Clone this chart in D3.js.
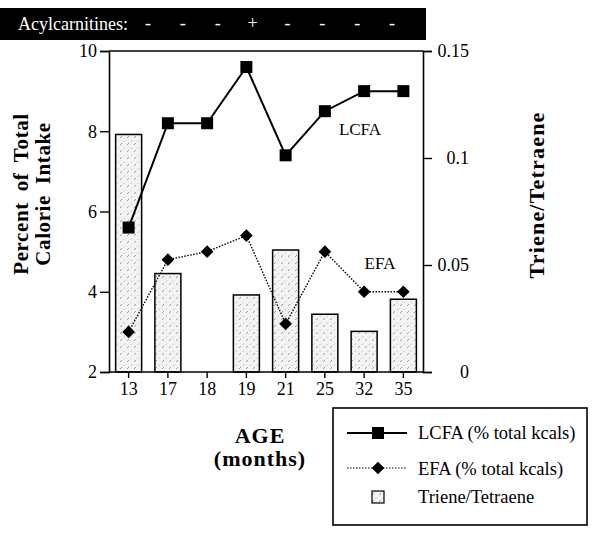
<!doctype html>
<html lang="en">
<head>
<meta charset="utf-8">
<title>LCFA / EFA / Triene-Tetraene by age</title>
<script src="https://d3js.org/d3.v7.min.js"></script>
<style>
  body { margin: 0; background: #fff; }
</style>
</head>
<body>
<div id="chart"></div>
<script>
// data
const ages = ["13", "17", "18", "19", "21", "25", "32", "35"];
const lcfa = [5.6, 8.2, 8.2, 9.6, 7.4, 8.5, 9.0, 9.0];
const efa = [3.0, 4.8, 5.0, 5.4, 3.2, 5.0, 4.0, 4.0];
const triene = [0.111, 0.046, null, 0.036, 0.057, 0.027, 0.019, 0.034];
const acyl = ["-", "-", "-", "+", "-", "-", "-", "-"];
const leftTicks = [2, 4, 6, 8, 10];
const rightTicks = [0, 0.05, 0.1, 0.15];

const width = 601, height = 533;
const m = { left: 109, right: 423, top: 51, bottom: 372 };
const serif = "'Liberation Serif', 'Times New Roman', serif";

const svg = d3.select("#chart").append("svg")
    .attr("width", width)
    .attr("height", height)
    .attr("font-family", serif);

// hatch fill for the bars
const defs = svg.append("defs");
const pat = defs.append("pattern")
    .attr("id", "hatch")
    .attr("patternUnits", "userSpaceOnUse")
    .attr("width", 7).attr("height", 7);
pat.append("rect").attr("width", 7).attr("height", 7).attr("fill", "#f3f3f3");
pat.append("path").attr("d", "M1,5 L3,3").attr("stroke", "#888").attr("stroke-width", 0.8);
pat.append("path").attr("d", "M4.5,2 L6,0.5").attr("stroke", "#aaa").attr("stroke-width", 0.7);

const x = d3.scaleBand().domain(ages).range([m.left, m.right]);
const cx = d => x(d) + x.bandwidth() / 2;
const yL = d3.scaleLinear().domain([2, 10]).range([m.bottom, m.top]);
const yR = d3.scaleLinear().domain([0, 0.15]).range([m.bottom, m.top]);

// header strip
svg.append("rect").attr("x", 0).attr("y", 8).attr("width", 426).attr("height", 32).attr("fill", "#000");
svg.append("text").attr("x", 18).attr("y", 30).attr("fill", "#fff")
    .attr("font-size", 18).text("Acylcarnitines:");
const xa = d3.scalePoint().domain(d3.range(acyl.length)).range([148, 392]);
svg.append("g").selectAll("text").data(acyl).join("text")
    .attr("x", (d, i) => xa(i)).attr("y", 29)
    .attr("text-anchor", "middle").attr("fill", "#fff").attr("font-size", 18)
    .text(d => d);

// bars
svg.append("g").selectAll("rect")
  .data(ages.map((a, i) => ({ a, v: triene[i] })).filter(d => d.v != null))
  .join("rect")
    .attr("x", d => cx(d.a) - 13)
    .attr("width", 26)
    .attr("y", d => yR(d.v))
    .attr("height", d => yR(0) - yR(d.v))
    .attr("fill", "url(#hatch)")
    .attr("stroke", "#000").attr("stroke-width", 1.5);

// axes
const axL = svg.append("g").attr("transform", `translate(${m.left},0)`)
    .call(d3.axisLeft(yL).tickValues(leftTicks).tickSize(9).tickPadding(3).tickFormat(d3.format("d")));
const axR = svg.append("g").attr("transform", `translate(${m.right},0)`)
    .call(d3.axisRight(yR).tickValues(rightTicks).tickSize(9).tickPadding(0).tickFormat(d => d === 0 ? "0" : String(d)));
axR.selectAll(".tick text").attr("text-anchor", "end").attr("x", 46);
const axB = svg.append("g").attr("transform", `translate(0,${m.bottom})`)
    .call(d3.axisBottom(x).tickSize(6).tickPadding(4));
for (const g of [axL, axR, axB]) {
  g.attr("font-family", serif).attr("font-size", 18);
  g.selectAll(".domain").attr("stroke-width", 1.6);
  g.selectAll(".tick line").attr("stroke-width", 1.4);
}
axB.select(".domain").attr("d", `M${m.left},0H${m.right}`);
svg.append("line").attr("x1", m.left).attr("x2", m.right).attr("y1", m.top).attr("y2", m.top)
    .attr("stroke", "#000").attr("stroke-width", 1.6);

// LCFA
svg.append("path").datum(lcfa)
    .attr("fill", "none").attr("stroke", "#000").attr("stroke-width", 2)
    .attr("d", d3.line().x((d, i) => cx(ages[i])).y(d => yL(d)));
svg.append("g").selectAll("rect").data(lcfa).join("rect")
    .attr("x", (d, i) => cx(ages[i]) - 6).attr("y", d => yL(d) - 6)
    .attr("width", 12).attr("height", 12).attr("fill", "#000");

// EFA
svg.append("path").datum(efa)
    .attr("fill", "none").attr("stroke", "#000").attr("stroke-width", 1.4)
    .attr("stroke-dasharray", "1.5,1.5")
    .attr("d", d3.line().x((d, i) => cx(ages[i])).y(d => yL(d)));
const diamond = d3.symbol().type(d3.symbolSquare).size(80);
svg.append("g").selectAll("path").data(efa).join("path")
    .attr("d", diamond)
    .attr("transform", (d, i) => `translate(${cx(ages[i])},${yL(d)}) rotate(45)`)
    .attr("fill", "#000");

// in-plot labels
svg.append("text").attr("x", 360).attr("y", 135).attr("text-anchor", "middle").attr("font-size", 17).text("LCFA");
svg.append("text").attr("x", 380).attr("y", 269).attr("text-anchor", "middle").attr("font-size", 17).text("EFA");

// axis titles
const lt = svg.append("text").attr("transform", "translate(0,194) rotate(-90)")
    .attr("text-anchor", "middle").attr("font-size", 21).attr("font-weight", "bold")
    .attr("letter-spacing", 0.6);
lt.append("tspan").attr("x", 0).attr("y", 28).attr("word-spacing", 5).text("Percent of Total");
lt.append("tspan").attr("x", 0).attr("y", 50).attr("word-spacing", 5).text("Calorie Intake");
svg.append("text").attr("transform", "translate(544,195) rotate(-90)")
    .attr("text-anchor", "middle").attr("font-size", 22).attr("font-weight", "bold")
    .attr("letter-spacing", 1.2).text("Triene/Tetraene");
svg.append("text").attr("x", 260).attr("y", 443).attr("text-anchor", "middle")
    .attr("font-size", 22).attr("font-weight", "bold").attr("letter-spacing", 1).text("AGE");
svg.append("text").attr("x", 260).attr("y", 466).attr("text-anchor", "middle")
    .attr("font-size", 22).attr("font-weight", "bold").attr("letter-spacing", 1).text("(months)");

// legend
const lg = svg.append("g");
lg.append("rect").attr("x", 333).attr("y", 408).attr("width", 254).attr("height", 117)
    .attr("fill", "none").attr("stroke", "#000").attr("stroke-width", 1.6);
lg.append("line").attr("x1", 347).attr("x2", 407).attr("y1", 433).attr("y2", 433)
    .attr("stroke", "#000").attr("stroke-width", 2);
lg.append("rect").attr("x", 372).attr("y", 427).attr("width", 12).attr("height", 12).attr("fill", "#000");
lg.append("line").attr("x1", 347).attr("x2", 407).attr("y1", 468).attr("y2", 468)
    .attr("stroke", "#000").attr("stroke-width", 1.2).attr("stroke-dasharray", "1.5,1.5");
lg.append("path").attr("d", diamond).attr("transform", "translate(378,468) rotate(45)").attr("fill", "#000");
lg.append("rect").attr("x", 372).attr("y", 491).attr("width", 12).attr("height", 12)
    .attr("fill", "url(#hatch)").attr("stroke", "#000").attr("stroke-width", 1.2);
const labels = ["LCFA (% total kcals)", "EFA (% total kcals)", "Triene/Tetraene"];
lg.selectAll("text.l").data(labels).join("text")
    .attr("x", 418).attr("y", (d, i) => [439, 475, 503][i])
    .attr("font-size", 18.5).text(d => d);
</script>
</body>
</html>
